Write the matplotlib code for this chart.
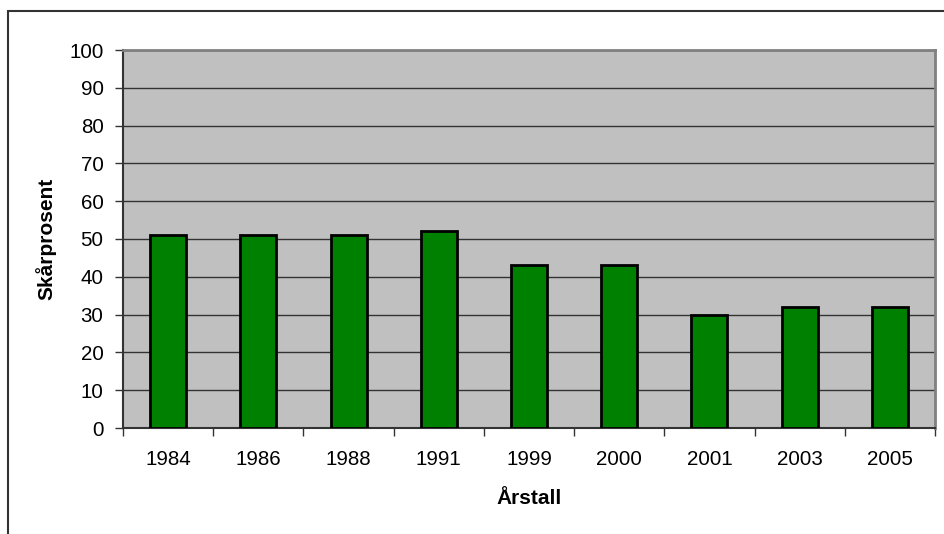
import matplotlib
matplotlib.use("Agg")
import matplotlib.pyplot as plt
import matplotlib.patches as mpatches
import numpy as np

years = ["1984", "1986", "1988", "1991", "1999", "2000", "2001", "2003", "2005"]
values = [51, 51, 51, 52, 43, 43, 30, 32, 32]
y_ticks = [0, 10, 20, 30, 40, 50, 60, 70, 80, 90, 100]

plt.rcParams['font.family'] = ['Liberation Sans', 'DejaVu Sans']

W, H = 944, 534
fig = plt.figure(figsize=(W/100, H/100), dpi=100)
fig.patch.set_facecolor('white')

# figure border (extends off right/bottom)
fig.add_artist(mpatches.Rectangle((8/W, -0.1), 1.2, 1 - 11/H + 0.1,
                                  transform=fig.transFigure, fill=False,
                                  edgecolor='#333333', linewidth=1.5))

ax = fig.add_axes([123/W, 1 - 428/H, 812/W, 378/H])
ax.set_facecolor('#C0C0C0')

x = np.arange(len(years))
ax.bar(x, values, width=0.4, color='#008000', edgecolor='black', linewidth=2, zorder=3)

ax.set_xlim(-0.5, len(years) - 0.5)
ax.set_ylim(0, 100)
ax.set_yticks(y_ticks)
ax.set_yticklabels([str(v) for v in y_ticks], fontsize=14.8)
ax.yaxis.grid(True, color='#333333', linewidth=1, zorder=1)
ax.set_axisbelow(True)

ax.set_xticks(x)
ax.set_xticklabels(years, fontsize=14.8)
ax.set_xticks(np.arange(-0.5, len(years)), minor=True)
ax.tick_params(axis='x', which='major', length=0, pad=16)
ax.tick_params(axis='x', which='minor', length=6, width=1, color='#333333', direction='out')
ax.tick_params(axis='y', length=6, width=1, color='#333333', direction='out', pad=8)

for s in ['top', 'right']:
    ax.spines[s].set_color('#808080')
    ax.spines[s].set_linewidth(2)
ax.spines['left'].set_color('#333333')
ax.spines['left'].set_linewidth(1.5)
ax.spines['bottom'].set_color('#333333')
ax.spines['bottom'].set_linewidth(1.5)

ax.set_ylabel('Skårprosent', fontsize=15, fontweight='bold', labelpad=9)
ax.set_xlabel('Årstall', fontsize=15, fontweight='bold', labelpad=14)

fig.savefig('out.png', dpi=100)
